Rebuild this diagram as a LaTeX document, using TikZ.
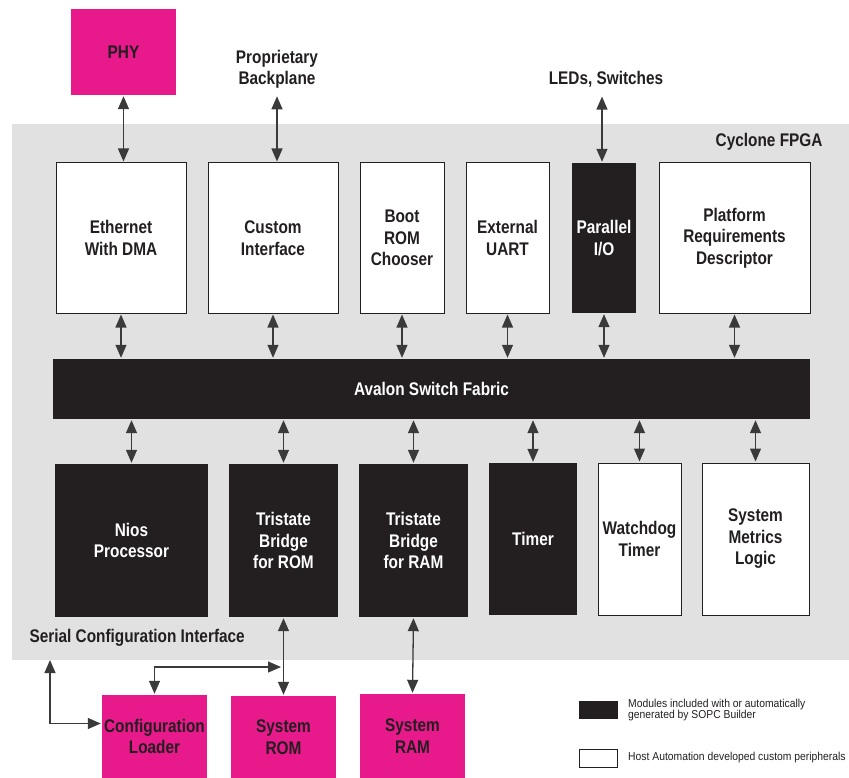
\documentclass[tikz,border=0pt]{standalone}
\usepackage{fontspec}
\setmainfont{Liberation Sans}[FakeStretch=0.84]
\newfontfamily\legfont{Liberation Sans}[FakeStretch=0.9]
\usetikzlibrary{arrows.meta}
\definecolor{magentabox}{HTML}{E8198B}
\definecolor{darkbox}{HTML}{231F20}
\definecolor{panel}{HTML}{E1E1E1}
\definecolor{linecol}{HTML}{3A3A3A}
\begin{document}
\begin{tikzpicture}[x=1pt,y=-1pt,
  lbl/.style={font=\bfseries\fontsize{18.3}{21.5}\selectfont,align=center,text=darkbox},
  whitebox/.style={lbl,draw=darkbox,line width=1pt,fill=white,inner sep=0pt},
  blackbox/.style={lbl,fill=darkbox,text=white,inner sep=0pt},
  pinkbox/.style={lbl,fill=magentabox,inner sep=0pt},
  dbl/.style={{Triangle[width=11pt,length=13pt]}-{Triangle[width=11pt,length=13pt]},line width=1.3pt,draw=linecol,shorten <=1pt,shorten >=1pt},
  legtxt/.style={font=\legfont\fontsize{11.5}{10.5}\selectfont,align=left,text=darkbox,inner sep=0pt,anchor=west}
]
\useasboundingbox (0,0) rectangle (849,778);
% panel
\fill[panel] (12,124) rectangle (849,660);
\node[lbl,anchor=east] (fpga) at (826,142) {Cyclone FPGA};
\node[lbl,anchor=west] (sci) at (26,638) {Serial Configuration Interface};

% external top
\node[pinkbox,minimum width=105pt,minimum height=86pt] (phy) at (123.5,52) {PHY};
\node[lbl] (bp) at (277,69.5) {Proprietary\\Backplane};
\node[lbl] (led) at (606,79) {LEDs, Switches};

% top row
\node[whitebox,minimum width=130pt,minimum height=150pt] (eth) at (121,238) {Ethernet\\With DMA};
\node[whitebox,minimum width=130pt,minimum height=150pt] (cust) at (273,238) {Custom\\Interface};
\node[whitebox,minimum width=84pt,minimum height=150pt] (boot) at (402,238) {Boot\\ROM\\Chooser};
\node[whitebox,minimum width=83pt,minimum height=150pt] (uart) at (507.5,238) {External\\UART};
\node[blackbox,minimum width=64pt,minimum height=150pt] (pio) at (604,238) {Parallel\\I/O};
\node[whitebox,minimum width=151pt,minimum height=150pt] (prd) at (734.5,238) {Platform\\Requirements\\Descriptor};

% fabric
\node[blackbox,minimum width=757pt,minimum height=60pt] (fab) at (431.5,389) {Avalon Switch Fabric};

% bottom row
\node[blackbox,minimum width=153pt,minimum height=153pt] (nios) at (131.5,540.5) {Nios\\Processor};
\node[blackbox,minimum width=109pt,minimum height=153pt] (trom) at (283.5,540.5) {Tristate\\Bridge\\for ROM};
\node[blackbox,minimum width=109pt,minimum height=153pt] (tram) at (413.5,540.5) {Tristate\\Bridge\\for RAM};
\node[blackbox,minimum width=88pt,minimum height=152pt] (timer) at (533,539) {Timer};
\node[whitebox,minimum width=83pt,minimum height=152pt] (wdog) at (639.5,539) {Watchdog\\Timer};
\node[whitebox,minimum width=107pt,minimum height=152pt] (sml) at (755.5,539) {System\\Metrics\\Logic};

% external bottom
\node[pinkbox,minimum width=105pt,minimum height=83pt] (cfg) at (154.5,736.5) {Configuration\\Loader};
\node[pinkbox,minimum width=105pt,minimum height=82pt] (srom) at (283.5,737) {System\\ROM};
\node[pinkbox,minimum width=105pt,minimum height=84pt] (sram) at (412.5,736) {System\\RAM};

% connectors top
\draw[dbl] (phy.south) -- (phy.south |- eth.north);
\draw[dbl] (bp.south) ++(0,3) coordinate (bps) -- (bps |- cust.north);
\draw[dbl] (led.south) ++(-4,5) coordinate (leds) -- (leds |- pio.north);
\foreach \n in {eth,cust,boot,uart,pio,prd}{
  \draw[dbl] (\n.south) -- (\n.south |- fab.north);
}
\foreach \n in {nios,trom,tram,timer,wdog,sml}{
  \draw[dbl] (fab.south -| \n.north) -- (\n.north);
}
\draw[dbl] (trom.south) -- (srom.north);
\draw[dbl] (tram.south) -- (sram.north);
\coordinate (scip) at (50,659);
\draw[dbl] (scip) |- ([yshift=13pt]cfg.west);
\coordinate (junc) at (282,667);
\draw[dbl] (cfg.north) |- (junc);

% legend
\node[fill=darkbox,minimum width=39pt,minimum height=18pt,inner sep=0pt] (legb) at (598.5,710) {};
\node[legtxt] (legbt) at (628,710) {Modules included with or automatically\\generated by SOPC Builder};
\node[draw=darkbox,line width=0.8pt,fill=white,minimum width=38pt,minimum height=18pt,inner sep=0pt] (legw) at (598,758) {};
\node[legtxt] (legwt) at (628,758) {Host Automation developed custom peripherals};
\end{tikzpicture}
\end{document}
